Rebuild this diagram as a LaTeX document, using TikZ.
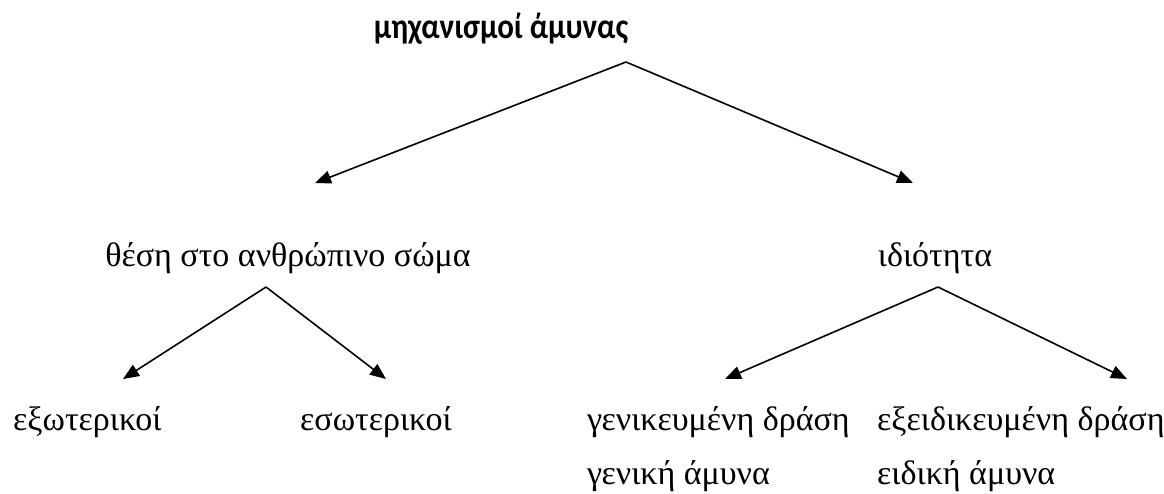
\documentclass[tikz,border=0pt]{standalone}
\usepackage{fontspec}
\setmainfont{Liberation Serif}
\newfontfamily\titlefont{Carlito}
\usetikzlibrary{arrows.meta}
\begin{document}
\begin{tikzpicture}[x=1pt,y=-1pt,
  lbl/.style={inner sep=0pt,font=\fontsize{34}{38}\selectfont},
  ttl/.style={inner sep=0pt,font=\titlefont\bfseries\fontsize{31}{35}\selectfont},
  branch/.style={line width=1.6pt,-{Triangle[length=16pt,width=13pt]}}]
\useasboundingbox (0,0) rectangle (1164,493);

% headings
\node[ttl,anchor=base] (top) at (501,38) {\scalebox{1}[1.15]{μηχανισμοί άμυνας}};
\node[lbl,anchor=base] (place) at (288,266) {θέση στο ανθρώπινο σώμα};
\node[lbl,anchor=base] (prop) at (935,266) {ιδιότητα};

% leaves
\node[lbl,anchor=base west] (ext) at (13,430) {εξωτερικοί};
\node[lbl,anchor=base west] (int) at (300,430) {εσωτερικοί};
\node[lbl,anchor=base west] (gen) at (587,430) {γενικευμένη δράση};
\node[lbl,anchor=base west] (genb) at (587,484) {γενική άμυνα};
\node[lbl,anchor=base west] (spec) at (877,430) {εξειδικευμένη δράση};
\node[lbl,anchor=base west] (specb) at (877,484) {ειδική άμυνα};

% branch points and arrow tips
\coordinate (a1) at (626,62);
\coordinate (t1l) at (315,183);
\coordinate (t1r) at (913,183);
\coordinate (a2) at (266,287);
\coordinate (t2l) at (123,379);
\coordinate (t2r) at (386,379);
\coordinate (a3) at (938,287);
\coordinate (t3l) at (725,379);
\coordinate (t3r) at (1127,379);

\draw[branch] (a1) -- (t1l);
\draw[branch] (a1) -- (t1r);
\draw[branch] (a2) -- (t2l);
\draw[branch] (a2) -- (t2r);
\draw[branch] (a3) -- (t3l);
\draw[branch] (a3) -- (t3r);
\end{tikzpicture}
\end{document}
